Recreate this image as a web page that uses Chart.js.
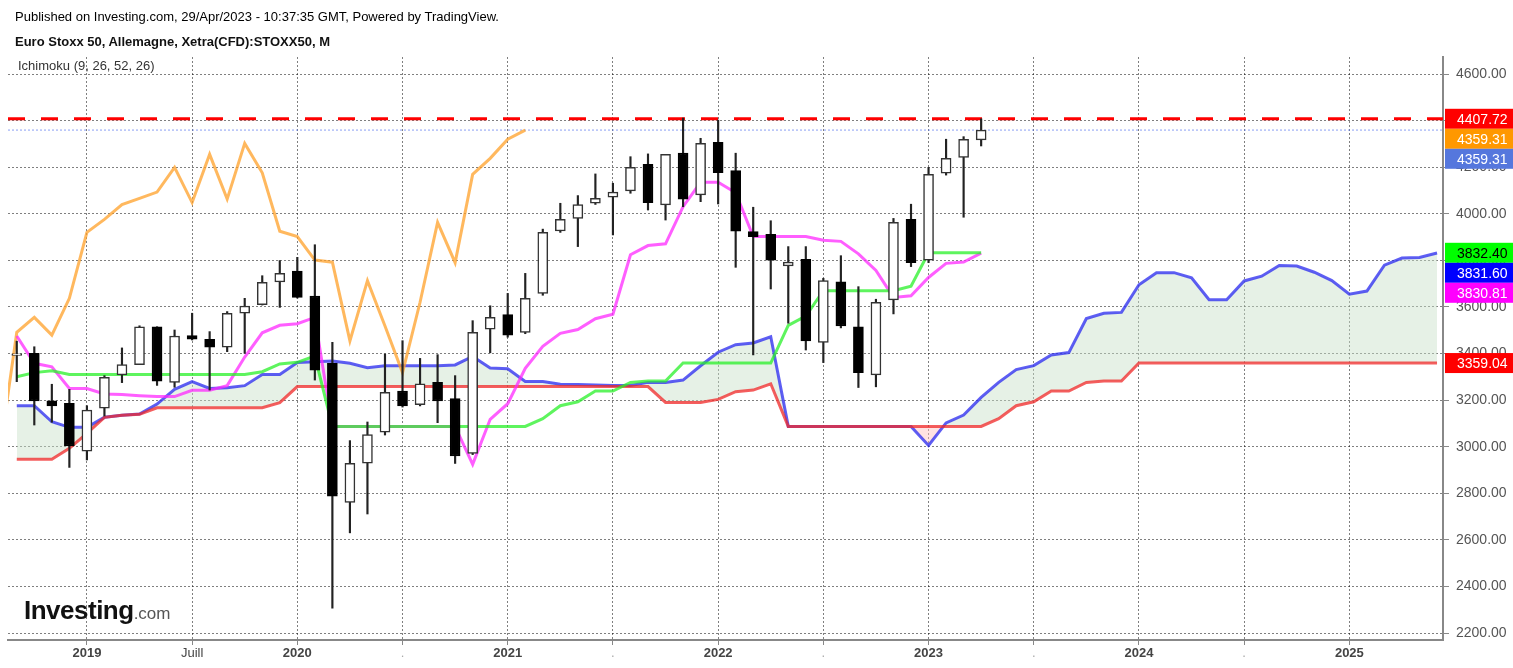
<!DOCTYPE html>
<html>
<head>
<meta charset="utf-8">
<title>Euro Stoxx 50 - Ichimoku</title>
<script src="https://cdn.jsdelivr.net/npm/chart.js@4.4.0/dist/chart.umd.min.js"></script>
<style>
	body { margin: 0; background: #fff; }
	#wrap { position: relative; width: 1513px; height: 668px; overflow: hidden; }
	#chart { position: absolute; left: 0; top: 0; }
	.txt { position: absolute; font-family: Arial, "Liberation Sans", sans-serif; white-space: nowrap; line-height: 13px; }
	.published { left: 15px; top: 10px; font-size: 13px; color: #000; }
	.symbol { left: 15px; top: 35px; font-size: 13px; font-weight: bold; color: #111; }
	.study { left: 18px; top: 59px; font-size: 13px; color: #333; }
	.logo { position: absolute; left: 24px; top: 597px; font-family: Arial, "Liberation Sans", sans-serif; line-height: 26px; white-space: nowrap; }
	.logo b { font-size: 26px; color: #111; letter-spacing: -0.5px; }
	.logo span { font-size: 17px; color: #555; }
</style>
</head>
<body>
<div id="wrap">
	<canvas id="chart" width="1513" height="668"></canvas>
	<div class="txt published">Published on Investing.com, 29/Apr/2023 - 10:37:35 GMT, Powered by TradingView.</div>
	<div class="txt symbol">Euro Stoxx 50, Allemagne, Xetra(CFD):STOXX50, M</div>
	<div class="txt study">Ichimoku (9, 26, 52, 26)</div>
	<div class="logo"><b>Investing</b><span>.com</span></div>
</div>
<script>
// monthly candles, index 0 = Sep 2018 ... 55 = Apr 2023
const opens = [3392, 3401, 3197, 3186, 2981, 3165, 3308, 3352, 3514, 3276, 3477, 3461, 3427, 3573, 3610, 3707, 3754, 3647, 3358, 2761, 2929, 3062, 3239, 3180, 3276, 3207, 2971, 3504, 3567, 3491, 3658, 3926, 3980, 4045, 4071, 4098, 4212, 4038, 4261, 4081, 4307, 4185, 3923, 3912, 3776, 3804, 3448, 3708, 3515, 3308, 3630, 3976, 3801, 4174, 4242, 4317];
const highs = [3453, 3429, 3268, 3246, 3176, 3305, 3424, 3519, 3515, 3501, 3573, 3494, 3580, 3637, 3734, 3799, 3813, 3867, 3448, 3026, 3106, 3398, 3455, 3379, 3395, 3305, 3541, 3605, 3658, 3744, 3934, 4045, 4078, 4171, 4131, 4245, 4257, 4255, 4411, 4324, 4402, 4260, 4028, 3970, 3859, 3859, 3723, 3820, 3687, 3633, 3980, 4041, 4199, 4320, 4331, 4407.72];
const lows = [3279, 3093, 3105, 2911, 2943, 3132, 3275, 3352, 3263, 3255, 3458, 3243, 3408, 3401, 3608, 3598, 3638, 3286, 2307, 2630, 2711, 3050, 3170, 3175, 3103, 2928, 2966, 3403, 3470, 3485, 3650, 3920, 3859, 4040, 3909, 4088, 4016, 3973, 4030, 4052, 4042, 3770, 3394, 3677, 3530, 3415, 3361, 3510, 3254, 3257, 3570, 3773, 3790, 4166, 3985, 4291];
const closes = [3399, 3196, 3175, 3003, 3157, 3298, 3352, 3514, 3281, 3475, 3462, 3427, 3573, 3604, 3706, 3744, 3641, 3329, 2788, 2929, 3052, 3233, 3175, 3270, 3196, 2960, 3491, 3555, 3479, 3637, 3920, 3976, 4039, 4066, 4093, 4199, 4048, 4255, 4063, 4302, 4176, 3925, 3902, 3801, 3792, 3454, 3713, 3518, 3318, 3620, 3963, 3790, 4169, 4238, 4320, 4359.31];

// ichimoku lines
const tenkan = [3475, 3358, 3343, 3250, 3250, 3226, 3224, 3219, 3215, 3215, 3242, 3242, 3262, 3385, 3489, 3521, 3528, 3555, 3087, 3087, 3087, 3087, 3087, 3087, 3087, 3087, 2924, 3117.5, 3184.5, 3336, 3431, 3486.5, 3503, 3549.5, 3568.5, 3824, 3863.5, 3871, 4030.5, 4135, 4135, 4090.5, 3902.5, 3902.5, 3902.5, 3902.5, 3886, 3881.5, 3828, 3757, 3641, 3647.5, 3726.5, 3787, 3792.5, 3830.81];
const kijun = [3300, 3318, 3326, 3310, 3310, 3310, 3310, 3310, 3310, 3310, 3310, 3310, 3310, 3310, 3322, 3355, 3362, 3389, 3087, 3087, 3087, 3087, 3087, 3087, 3087, 3087, 3087, 3087, 3087, 3087, 3120.5, 3176, 3192.5, 3239, 3239, 3276, 3282, 3282, 3359, 3359, 3359, 3359, 3359, 3359, 3520.5, 3561, 3669.5, 3669.5, 3669.5, 3669.5, 3669.5, 3688.5, 3832.4, 3832.4, 3832.4, 3832.4];
// lagging span starts one month before the first candle (index -1)
const chikou = [2960, 3491, 3555, 3479, 3637, 3920, 3976, 4039, 4066, 4093, 4199, 4048, 4255, 4063, 4302, 4176, 3925, 3902, 3801, 3792, 3454, 3713, 3518, 3318, 3620, 3963, 3790, 4169, 4238, 4320, 4359.31];
// leading spans run 26 months past the last candle (index 0..81)
const senkouA = [3176, 3176, 3107, 3083, 3083, 3126, 3135, 3140, 3183, 3246, 3279, 3250, 3253, 3262, 3310, 3310, 3361, 3365, 3368, 3358, 3339, 3347, 3347, 3347, 3347, 3351,
	3387.5, 3338, 3334.5, 3280, 3280, 3268, 3267, 3264.5, 3262.5, 3262.5, 3276, 3276, 3286, 3347.5, 3405.5, 3438, 3445, 3472, 3087, 3087, 3087, 3087, 3087, 3087, 3087, 3087, 3005.5, 3102, 3136, 3211.5, 3276, 3331, 3348, 3394, 3404, 3550, 3573, 3576.5, 3695, 3747, 3747, 3725, 3631, 3631, 3711.5, 3732, 3778, 3775.5, 3749, 3713, 3655, 3668, 3779.5, 3810, 3812.5, 3831.6];
const senkouB = [2946, 2946, 2946, 2993, 3057, 3126, 3135, 3139, 3167, 3167, 3167, 3167, 3167, 3167, 3167, 3189, 3258, 3258, 3258, 3258, 3258, 3258, 3258, 3258, 3258, 3258, 3258, 3258, 3258, 3258, 3258, 3258, 3258, 3258, 3258, 3258, 3258, 3190, 3190, 3190, 3203, 3236, 3243, 3270,
	3087, 3087, 3087, 3087, 3087, 3087, 3087, 3087, 3087, 3087, 3087, 3087, 3120.5, 3176, 3192.5, 3239, 3239, 3276, 3282, 3282, 3359.04, 3359.04, 3359.04, 3359.04, 3359.04, 3359.04, 3359.04, 3359.04, 3359.04, 3359.04, 3359.04, 3359.04, 3359.04, 3359.04, 3359.04, 3359.04, 3359.04, 3359.04];

const highLevel = 4407.72;
const lastLevel = 4359.31;
const tagValues = [4407.72, 4359.31, 4359.31, 3832.40, 3831.60, 3830.81, 3359.04];

const yTicks = [2200, 2400, 2600, 2800, 3000, 3200, 3400, 3600, 3800, 4000, 4200, 4400, 4600];
const xTickPos = [4, 10, 16, 22, 28, 34, 40, 46, 52, 58, 64, 70, 76];
const xTickLabels = ['2019', 'Juill', '2020', '.', '2021', '.', '2022', '.', '2023', '.', '2024', '.', '2025'];

const xMin = -0.5;
const xMax = 81.34;
const FONT = 'Arial, "Liberation Sans", sans-serif';

const series = (arr, start) => arr.map((v, k) => ({ x: start + k, y: v }));
const isUp = closes.map((c, i) => c >= opens[i]);
const labelAt = c => (c && c.tick ? xTickLabels[xTickPos.indexOf(c.tick.value)] || '' : '');

const tagBg = ['#ff0000', '#ff9800', '#5577dd', '#00ff00', '#0000ff', '#ff00ff', '#ff0000'];
const tagFg = ['#fff', '#fff', '#fff', '#000', '#fff', '#fff', '#fff'];

const priceTags = {
	id: 'priceTags',
	afterDraw(chart) {
		const { ctx } = chart;
		const y = chart.scales.y;
		const left = y.left + 2;
		let prev = -Infinity;
		ctx.save();
		ctx.font = '14px ' + FONT;
		ctx.textBaseline = 'middle';
		ctx.textAlign = 'left';
		tagValues.forEach((v, k) => {
			const py = Math.max(y.getPixelForValue(v), prev + 20);
			prev = py;
			ctx.fillStyle = tagBg[k];
			ctx.fillRect(left, py - 10, chart.width - left, 20);
			ctx.fillStyle = tagFg[k];
			ctx.fillText(v.toFixed(2), y.left + 14, py + 1);
		});
		ctx.restore();
	},
};

const lineDefaults = { type: 'line', pointRadius: 0, borderWidth: 3, tension: 0, fill: false };

const datasets = [
	{
		type: 'bar',
		data: opens.map((o, i) => ({ x: i, y: [o, closes[i]] })),
		backgroundColor: isUp.map(u => (u ? '#ffffff' : '#000000')),
		borderColor: isUp.map(u => (u ? '#333333' : '#000000')),
		borderWidth: 1.5,
		borderSkipped: false,
		barThickness: 10,
		grouped: false,
		order: 0,
	},
	{
		type: 'bar',
		data: lows.map((l, i) => ({ x: i, y: [l, highs[i]] })),
		backgroundColor: '#222',
		barThickness: 1.5,
		grouped: false,
		order: 1,
	},
	{ ...lineDefaults, data: series(kijun, 0), borderColor: 'rgba(40, 240, 40, 0.75)', order: 2 },
	{ ...lineDefaults, data: series(tenkan, 0), borderColor: 'rgba(255, 40, 255, 0.75)', order: 3 },
	{ ...lineDefaults, data: series(chikou, -1), borderColor: 'rgba(255, 160, 40, 0.75)', order: 4 },
	{ ...lineDefaults, data: series(senkouB, 0), borderColor: 'rgba(240, 40, 40, 0.75)', order: 5 },
	{
		...lineDefaults,
		data: series(senkouA, 0),
		borderColor: 'rgba(40, 40, 240, 0.75)',
		// index 5 is senkou B
		fill: { target: 5, above: 'rgba(200, 225, 200, 0.45)', below: 'rgba(255, 190, 190, 0.45)' },
		order: 6,
	},
	{
		...lineDefaults,
		data: [{ x: xMin, y: lastLevel }, { x: xMax, y: lastLevel }],
		borderColor: 'rgba(90, 120, 240, 0.7)',
		borderWidth: 1,
		borderDash: [2, 2],
		order: 7,
	},
	{
		...lineDefaults,
		data: [{ x: xMin, y: highLevel }, { x: xMax, y: highLevel }],
		borderColor: '#ff0000',
		borderWidth: 3,
		borderDash: [17, 16],
		order: 8,
	},
];

const ctx = document.getElementById('chart');

new Chart(ctx, {
	type: 'bar',
	data: { datasets },
	options: {
		responsive: false,
		animation: false,
		events: [],
		layout: { padding: { left: 8, top: 57, right: 0, bottom: 0 } },
		plugins: {
			legend: { display: false },
			tooltip: { enabled: false },
			filler: { drawTime: 'beforeDatasetsDraw' },
		},
		scales: {
			x: {
				type: 'linear',
				min: xMin,
				max: xMax,
				offset: false,
				afterFit: scale => { scale.height = 28; },
				afterBuildTicks: scale => { scale.ticks = xTickPos.map(v => ({ value: v })); },
				grid: { offset: false, color: 'rgba(0, 0, 0, 0.5)', lineWidth: 1, tickLength: 5, tickColor: '#888' },
				border: { display: true, color: '#888', width: 2, dash: [2, 2] },
				ticks: {
					autoSkip: false,
					maxRotation: 0,
					padding: 1,
					color: c => (labelAt(c) === '.' ? '#aaa' : '#444'),
					font: c => ({ family: FONT, size: 13, weight: /^\d+$/.test(labelAt(c)) ? 'bold' : 'normal' }),
					callback: value => xTickLabels[xTickPos.indexOf(value)] ?? '',
				},
			},
			y: {
				type: 'linear',
				position: 'right',
				min: 2170,
				max: 4673,
				beginAtZero: false,
				afterFit: scale => { scale.width = 70; },
				afterBuildTicks: scale => { scale.ticks = yTicks.map(v => ({ value: v })); },
				grid: { color: 'rgba(0, 0, 0, 0.5)', lineWidth: 1, tickLength: 6, tickColor: '#888' },
				border: { display: true, color: '#888', width: 2, dash: [2, 2] },
				ticks: {
					padding: 7,
					color: '#555',
					font: { family: FONT, size: 14 },
					callback: value => Number(value).toFixed(2),
				},
			},
		},
	},
	plugins: [priceTags],
});
</script>
</body>
</html>
